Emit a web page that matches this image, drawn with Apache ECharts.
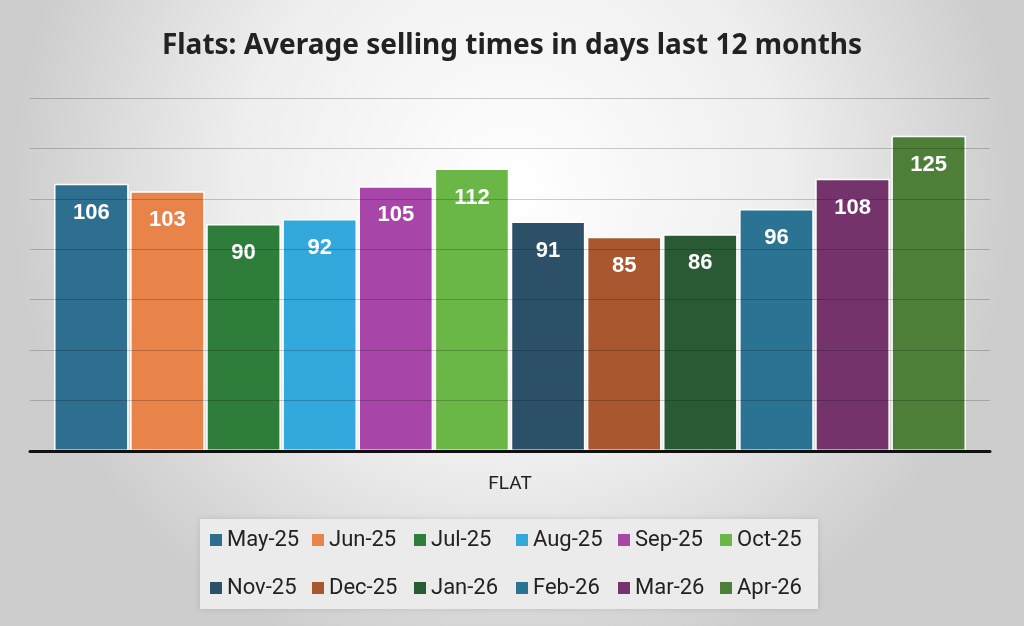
<!DOCTYPE html>
<html>
<head>
<meta charset="utf-8">
<script src="https://cdn.jsdelivr.net/npm/echarts@6/dist/echarts.min.js"></script>
<style>html,body{margin:0;padding:0;}#c{width:1024px;height:626px;}</style>
</head>
<body>
<div id="c"></div>
<script>
const categories = ['FLAT'];
const months = ['May-25','Jun-25','Jul-25','Aug-25','Sep-25','Oct-25','Nov-25','Dec-25','Jan-26','Feb-26','Mar-26','Apr-26'];
const values = [106,103,90,92,105,112,91,85,86,96,108,125];
const colors = ['#2e6f90','#e8834a','#2f7d3b','#32a8dc','#a745a8','#6ab646','#2d5069','#a9572e','#2a5a34','#2b7393','#74336a','#4d7f38'];

const chart = echarts.init(document.getElementById('c'));
const series = months.map((m, i) => ({
  name: m,
  type: 'bar',
  data: [values[i]],
  barGap: '2%',
  barCategoryGap: '5%',
  itemStyle: { color: colors[i], borderColor: '#ffffff', borderWidth: 1.5 },
  label: {
    show: true, position: 'insideTop', distance: 18,
    color: '#ffffff', fontFamily: 'Liberation Sans, Arial, sans-serif',
    fontWeight: 'bold', fontSize: 22
  }
}));

chart.setOption({
  animation: false,
  backgroundColor: {
    type: 'radial', x: 0.5, y: 0.3, r: 0.8,
    colorStops: [
      { offset: 0, color: '#ffffff' },
      { offset: 0.55, color: '#eeeeee' },
      { offset: 1, color: '#cdcdcd' }
    ]
  },
  title: {
    text: 'Flats: Average selling times in days last 12 months',
    left: 'center', top: 27,
    textStyle: { fontFamily: 'Noto Sans', fontWeight: 'bold', fontSize: 28, color: '#222222' }
  },
  legend: {
    data: months,
    left: 200, top: 519,
    width: 610,
    orient: 'horizontal',
    itemWidth: 12, itemHeight: 12, itemGap: 8,
    icon: 'rect',
    itemStyle: { borderWidth: 0 },
    backgroundColor: '#ebebeb',
    padding: [1, 4, 1, 10],
    shadowBlur: 6, shadowColor: 'rgba(0,0,0,0.12)',
    textStyle: { fontFamily: 'Roboto', fontSize: 22, color: '#222222', width: 77, height: 40, lineHeight: 40 }
  },
  grid: { left: 30, right: 34, top: 98, bottom: 175 },
  xAxis: {
    type: 'category', data: categories, z: 6,
    axisLine: { lineStyle: { color: '#111111', width: 3 } },
    axisTick: { show: false },
    axisLabel: { margin: 24, fontFamily: 'Roboto', fontSize: 19, color: '#222222' }
  },
  yAxis: {
    type: 'value', min: 0, max: 140, interval: 20, z: 5,
    axisLabel: { show: false }, axisLine: { show: false }, axisTick: { show: false },
    splitLine: { lineStyle: { color: 'rgba(0,0,0,0.2)', width: 1 } }
  },
  series: series
});
</script>
</body>
</html>
